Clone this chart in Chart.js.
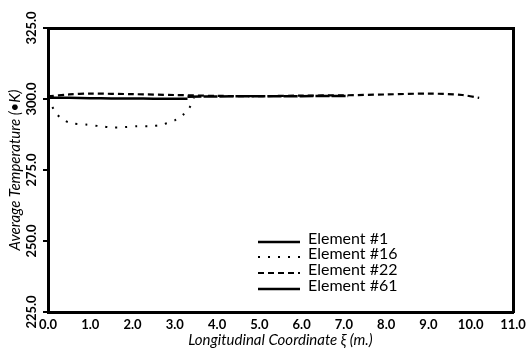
<!DOCTYPE html>
<html>
<head>
<meta charset="utf-8">
<script src="https://cdn.jsdelivr.net/npm/chart.js@4/dist/chart.umd.min.js"></script>
<style>
  html, body { margin: 0; padding: 0; background: #fff; }
  #wrap { width: 530px; height: 360px; }
</style>
</head>
<body>
<div id="wrap"><canvas id="chart" width="530" height="360"></canvas></div>
<script>
// values
const seriesNames = ["Element #1", "Element #16", "Element #22", "Element #61"];

const x1 = [0, 0.5, 1.0, 1.5, 2.0, 2.5, 3.0, 3.3];
const t1 = [300.4, 300.4, 300.3, 300.2, 300.2, 300.1, 300.1, 300.1];

const x16 = [0, 0.15, 0.3, 0.55, 0.9, 1.25, 1.5, 1.8, 2.1, 2.4, 2.7, 3.0, 3.2, 3.35, 3.45];
const t16 = [300.4, 296.0, 293.3, 291.5, 291.0, 290.4, 290.0, 290.1, 290.4, 290.4, 291.0, 292.5, 294.5, 297.0, 300.5];

const x22 = [0, 0.5, 1.0, 2.0, 3.0, 4.0, 5.0, 6.0, 7.0, 8.0, 9.0, 9.8, 10.2];
const t22 = [300.9, 301.6, 301.9, 301.7, 301.4, 301.1, 301.0, 301.2, 301.3, 301.6, 301.9, 301.4, 300.4];

const x61 = [3.3, 4.0, 5.0, 6.0, 7.1];
const t61 = [300.8, 300.9, 301.0, 301.0, 301.1];

const xTicks = ["0.0", "1.0", "2.0", "3.0", "4.0", "5.0", "6.0", "7.0", "8.0", "9.0", "10.0", "11.0"];
const yTicks = ["225.0", "250.0", "275.0", "300.0", "325.0"];

const toPts = (xs, ys) => xs.map((x, i) => ({ x: x, y: ys[i] }));

const styles = [
  { borderWidth: 2.5, borderDash: [] },
  { borderWidth: 2, borderDash: [2, 8] },
  { borderWidth: 2.2, borderDash: [6, 4] },
  { borderWidth: 2.5, borderDash: [14, 2] },
];

const FONT = "Lato, 'DejaVu Sans', sans-serif";

// y tick labels read bottom-to-top in the original, centred on the tick
const rotatedYTicks = {
  id: "rotatedYTicks",
  afterDraw(chart) {
    const ctx = chart.ctx;
    const sc = chart.scales.y;
    ctx.save();
    ctx.font = "bold 13px " + FONT;
    ctx.fillStyle = "#000";
    ctx.textAlign = "center";
    ctx.textBaseline = "middle";
    yTicks.forEach(t => {
      const py = sc.getPixelForValue(parseFloat(t));
      ctx.save();
      ctx.translate(32, py);
      ctx.rotate(-Math.PI / 2);
      ctx.fillText(t, 0, 0);
      ctx.restore();
      // small outward tick
      ctx.fillRect(sc.right - 5, py - 1, 5, 2);
    });
    ctx.restore();
  }
};

// legend drawn inside the plot box, bottom right
const boxLegend = {
  id: "boxLegend",
  afterDraw(chart) {
    const ctx = chart.ctx;
    const left = 258, textX = 308;
    const rows = [239, 254, 270, 286];
    ctx.save();
    ctx.font = "16px " + FONT;
    ctx.fillStyle = "#000";
    ctx.textBaseline = "middle";
    chart.data.datasets.forEach((ds, i) => {
      ctx.beginPath();
      ctx.strokeStyle = "#000";
      ctx.lineWidth = ds.borderWidth;
      ctx.setLineDash(i === 3 ? [] : ds.borderDash);
      ctx.moveTo(left, rows[i] + 3);
      ctx.lineTo(left + 42, rows[i] + 3);
      ctx.stroke();
      ctx.setLineDash([]);
      ctx.fillText(ds.label, textX, rows[i]);
    });
    ctx.restore();
  }
};

new Chart(document.getElementById("chart"), {
  type: "line",
  data: {
    datasets: [toPts(x1, t1), toPts(x16, t16), toPts(x22, t22), toPts(x61, t61)].map((d, i) => ({
      label: seriesNames[i],
      data: d,
      borderColor: "#000",
      borderWidth: styles[i].borderWidth,
      borderDash: styles[i].borderDash,
      pointRadius: 0,
      tension: 0.3,
      fill: false,
    })),
  },
  options: {
    responsive: false,
    animation: false,
    layout: { padding: { top: 28, right: 17, left: 6, bottom: 11 } },
    plugins: {
      legend: { display: false },
      tooltip: { enabled: false },
    },
    scales: {
      x: {
        type: "linear",
        min: 0,
        max: 11,
        afterFit(s) { s.height = 37; },
        afterBuildTicks(s) { s.ticks = xTicks.map(v => ({ value: parseFloat(v) })); },
        ticks: {
          callback: (v, i) => xTicks[i],
          color: "#000",
          font: { family: FONT, size: 13, weight: "bold" },
          padding: 1,
          maxRotation: 0,
        },
        grid: { display: false, drawTicks: true, tickLength: 4, tickColor: "#000" },
        border: { color: "#000", width: 3 },
        title: {
          display: true,
          text: "Longitudinal Coordinate ξ (m.)",
          color: "#000",
          font: { family: FONT, size: 15, style: "italic" },
          padding: { top: 0, bottom: 0 },
        },
      },
      y: {
        min: 225,
        max: 325,
        afterFit(s) { s.width = 42; },
        afterBuildTicks(s) { s.ticks = yTicks.map(v => ({ value: parseFloat(v) })); },
        ticks: { display: false },
        grid: { display: false, drawTicks: false },
        border: { color: "#000", width: 3 },
        title: {
          display: true,
          text: "Average Temperature (•K)",
          color: "#000",
          font: { family: FONT, size: 15, style: "italic" },
          padding: { top: 0, bottom: 0 },
        },
      },
      x2: {
        type: "linear", position: "top", min: 0, max: 11,
        ticks: { display: false }, grid: { display: false, drawTicks: false },
        border: { color: "#000", width: 3 },
        afterFit(s) { s.height = 0; },
      },
      y2: {
        position: "right", min: 225, max: 325,
        ticks: { display: false }, grid: { display: false, drawTicks: false },
        border: { color: "#000", width: 3 },
        afterFit(s) { s.width = 0; },
      },
    },
  },
  plugins: [rotatedYTicks, boxLegend],
});
</script>
</body>
</html>
